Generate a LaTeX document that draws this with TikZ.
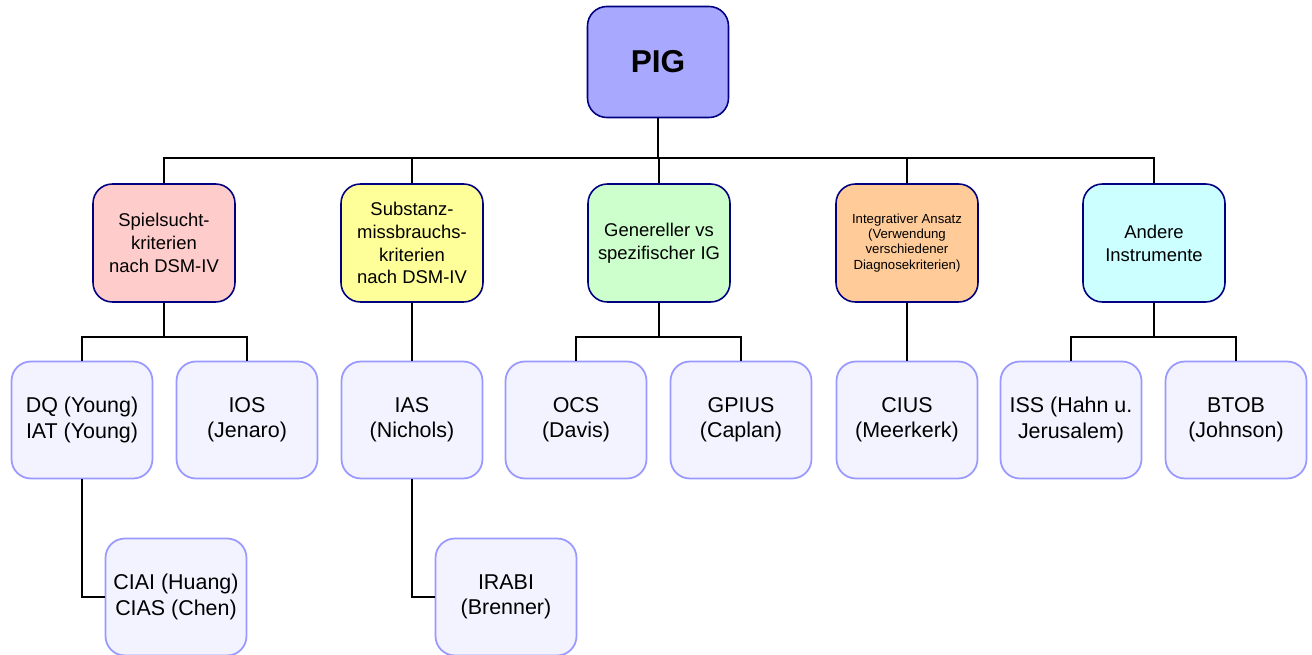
\documentclass[tikz,border=0pt]{standalone}
\usepackage{fontspec}
\setmainfont{Liberation Sans}
\usetikzlibrary{positioning}

\definecolor{pigfill}{HTML}{A8A8FF}
\definecolor{navyline}{HTML}{000080}
\definecolor{pinkfill}{HTML}{FFCCCC}
\definecolor{yellowfill}{HTML}{FFFF99}
\definecolor{greenfill}{HTML}{CCFFCC}
\definecolor{orangefill}{HTML}{FFCC99}
\definecolor{cyanfill}{HTML}{CCFFFF}
\definecolor{leaffill}{HTML}{F3F3FF}
\definecolor{leafline}{HTML}{9999FF}

\tikzset{
  rootbox/.style={draw=navyline, line width=0.9pt, fill=pigfill, rounded corners=11pt,
    minimum width=2.82cm, minimum height=2.22cm, inner sep=0pt,
    font=\fontsize{18}{20}\selectfont\bfseries},
  groupbox/.style={draw=navyline, line width=0.9pt, rounded corners=11pt, align=center,
    minimum width=2.84cm, minimum height=2.36cm, inner sep=0pt,
    font=\fontsize{10.5}{13}\selectfont},
  leafbox/.style={draw=leafline, line width=1pt, fill=leaffill, rounded corners=11pt, align=center,
    minimum width=2.82cm, minimum height=2.34cm, inner sep=0pt,
    font=\fontsize{12.2}{14.3}\selectfont},
  link/.style={draw=black, line width=0.6pt}
}

\begin{document}
\begin{tikzpicture}[x=0.02cm, y=-0.02cm]
  \useasboundingbox (0,0) rectangle (1312,655);

  % top
  \node[rootbox] (pig) at (658,62) {PIG};

  % first row
  \node[groupbox, fill=pinkfill] (spielsucht) at (164,243) {Spielsucht-\\kriterien\\nach DSM-IV};
  \node[groupbox, fill=yellowfill] (substanz) at (412,243) {Substanz-\\missbrauchs-\\kriterien\\nach DSM-IV};
  \node[groupbox, fill=greenfill] (generell) at (659,243) {Genereller vs\\spezifischer IG};
  \node[groupbox, fill=orangefill, font=\fontsize{7.5}{8.6}\selectfont] (integrativ) at (907,243)
    {Integrativer Ansatz\\(Verwendung\\verschiedener\\Diagnosekriterien)};
  \node[groupbox, fill=cyanfill] (andere) at (1154,243) {Andere\\Instrumente};

  % second row
  \node[leafbox] (dq) at (82,420) {DQ (Young)\\IAT (Young)};
  \node[leafbox] (ios) at (247,420) {IOS\\(Jenaro)};
  \node[leafbox] (ias) at (412,420) {IAS\\(Nichols)};
  \node[leafbox] (ocs) at (576,420) {OCS\\(Davis)};
  \node[leafbox] (gpius) at (741,420) {GPIUS\\(Caplan)};
  \node[leafbox] (cius) at (907,420) {CIUS\\(Meerkerk)};
  \node[leafbox] (iss) at (1071,420) {ISS (Hahn u.\\Jerusalem)};
  \node[leafbox] (btob) at (1236,420) {BTOB\\(Johnson)};

  % third row
  \node[leafbox] (ciai) at (176,597) {CIAI (Huang)\\CIAS (Chen)};
  \node[leafbox] (irabi) at (506,597) {IRABI\\(Brenner)};

  % connectors
  \coordinate (topbus) at (658,158);
  \draw[link] (pig) -- (topbus);
  \draw[link] (spielsucht) |- (topbus) -| (andere);
  \draw[link] (substanz) -- (substanz |- topbus);
  \draw[link] (generell) -- (generell |- topbus);
  \draw[link] (integrativ) -- (integrativ |- topbus);

  \coordinate (spielbus) at (164,337);
  \coordinate (generellbus) at (659,337);
  \coordinate (anderebus) at (1154,337);
  \draw[link] (spielsucht) -- (spielbus);
  \draw[link] (dq) |- (spielbus) -| (ios);
  \draw[link] (substanz) -- (ias);
  \draw[link] (generell) -- (generellbus);
  \draw[link] (ocs) |- (generellbus) -| (gpius);
  \draw[link] (integrativ) -- (cius);
  \draw[link] (andere) -- (anderebus);
  \draw[link] (iss) |- (anderebus) -| (btob);

  \draw[link] (dq) |- (ciai);
  \draw[link] (ias) |- (irabi);
\end{tikzpicture}
\end{document}
